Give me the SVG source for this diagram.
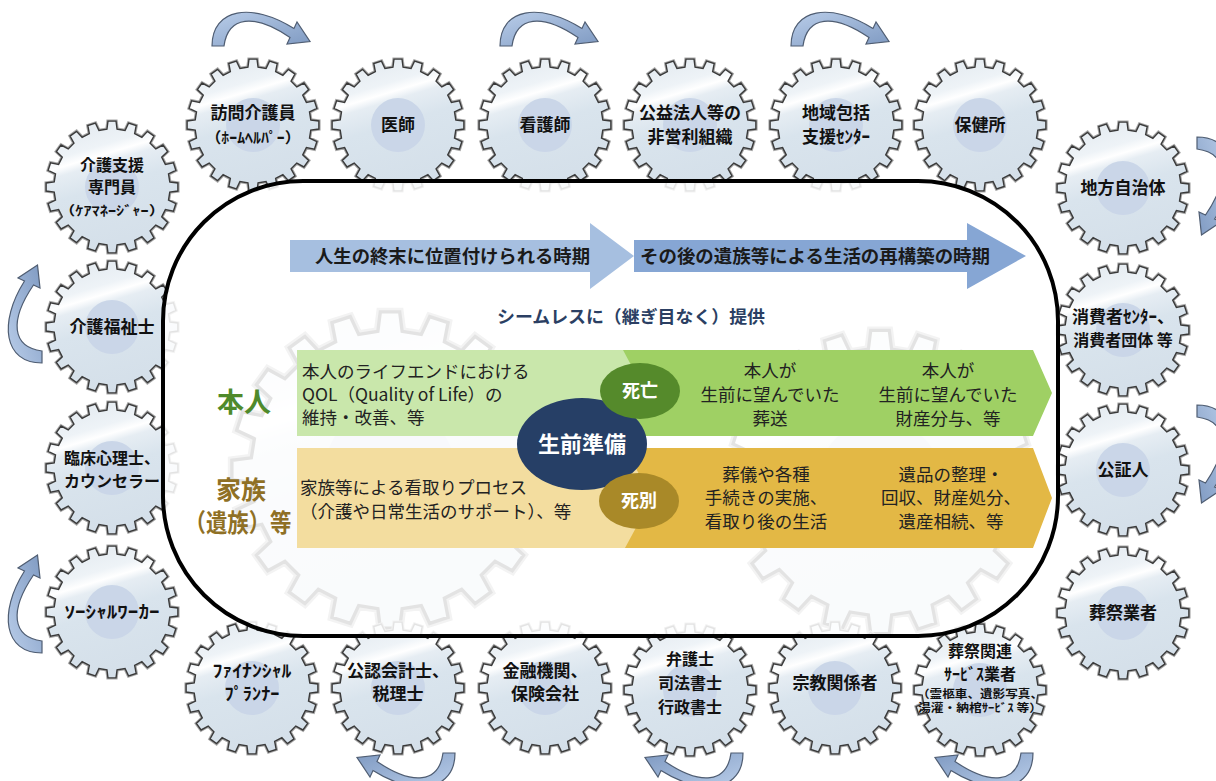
<svg xmlns="http://www.w3.org/2000/svg" xmlns:xlink="http://www.w3.org/1999/xlink" width="1216" height="781" viewBox="0 0 1216 781">
<defs>
<style>
.lbl{font-family:"Noto Sans CJK JP","Noto Sans",sans-serif;font-weight:700;fill:#111;text-anchor:middle;font-size:17px}
.body{font-family:"Noto Sans CJK JP","Noto Sans",sans-serif;font-size:17.5px;fill:#222}
.mid{text-anchor:middle}
.tl{font-family:"Noto Sans CJK JP","Noto Sans",sans-serif;font-weight:700;font-size:18px;fill:#1a1a1a}
.cyc{fill:url(#cycFill);stroke:#4f5d72;stroke-width:1.2}
.oval{font-family:"Noto Sans CJK JP","Noto Sans",sans-serif;font-weight:700;fill:#fff;text-anchor:middle}
</style>
<linearGradient id="gearFill" x1="0.3" y1="0" x2="0.6" y2="1">
<stop offset="0" stop-color="#e3eaf0"/>
<stop offset="0.2" stop-color="#eef3f7"/>
<stop offset="0.27" stop-color="#ffffff"/>
<stop offset="0.33" stop-color="#e6edf3"/>
<stop offset="0.5" stop-color="#d9e4ed"/>
<stop offset="1" stop-color="#d4dfe9"/>
</linearGradient>
<linearGradient id="cycFill" x1="0" y1="0" x2="1" y2="1">
<stop offset="0" stop-color="#b9cde9"/>
<stop offset="1" stop-color="#7f9ac2"/>
</linearGradient>
<polygon id="gearPoly" points="57.78,-5.06 65.88,-4.03 65.88,4.03 57.78,5.06 56.51,13.05 63.90,16.53 61.41,24.19 53.39,22.66 49.72,29.87 55.66,35.46 50.93,41.98 43.77,38.05 38.05,43.77 41.98,50.93 35.46,55.66 29.87,49.72 22.66,53.39 24.19,61.41 16.53,63.90 13.05,56.51 5.06,57.78 4.03,65.88 -4.03,65.88 -5.06,57.78 -13.05,56.51 -16.53,63.90 -24.19,61.41 -22.66,53.39 -29.87,49.72 -35.46,55.66 -41.98,50.93 -38.05,43.77 -43.77,38.05 -50.93,41.98 -55.66,35.46 -49.72,29.87 -53.39,22.66 -61.41,24.19 -63.90,16.53 -56.51,13.05 -57.78,5.06 -65.88,4.03 -65.88,-4.03 -57.78,-5.06 -56.51,-13.05 -63.90,-16.53 -61.41,-24.19 -53.39,-22.66 -49.72,-29.87 -55.66,-35.46 -50.93,-41.98 -43.77,-38.05 -38.05,-43.77 -41.98,-50.93 -35.46,-55.66 -29.87,-49.72 -22.66,-53.39 -24.19,-61.41 -16.53,-63.90 -13.05,-56.51 -5.06,-57.78 -4.03,-65.88 4.03,-65.88 5.06,-57.78 13.05,-56.51 16.53,-63.90 24.19,-61.41 22.66,-53.39 29.87,-49.72 35.46,-55.66 41.98,-50.93 38.05,-43.77 43.77,-38.05 50.93,-41.98 55.66,-35.46 49.72,-29.87 53.39,-22.66 61.41,-24.19 63.90,-16.53 56.51,-13.05"/>
<g id="gear">
<use href="#gearPoly" fill="none" stroke="#a8a8a8" stroke-width="3.4"/>
<use href="#gearPoly" fill="url(#gearFill)" stroke="#3a3a3a" stroke-width="1.4"/>
<circle r="27" fill="#cad6e8"/>
</g>
<path id="cycle" d="M0,0 C0,-38 40,-44 82,-17.5 L85,-24 L98,-4.5 L75,-2 L78,-8.5 C42,-33 16,-30 12,0 Z"/>
</defs>

<rect width="1216" height="781" fill="#ffffff"/>

<g id="background-gears">
<use href="#gear" transform="translate(390,470) scale(2.4)"/>
<use href="#gear" transform="translate(880,482) scale(2.3)"/>
</g>

<g id="nodes">
<g id="node-homehelper"><use href="#gear" x="253" y="125"/><text class="lbl" x="253" y="119">訪問介護員</text><text class="lbl" x="253" y="143" style="font-size:15px" textLength="95" lengthAdjust="spacingAndGlyphs">（ﾎｰﾑﾍﾙﾊﾟｰ）</text></g>
<g id="node-doctor"><use href="#gear" x="398" y="125"/><text class="lbl" x="398" y="131">医師</text></g>
<g id="node-nurse"><use href="#gear" x="545" y="125"/><text class="lbl" x="545" y="131">看護師</text></g>
<g id="node-npo"><use href="#gear" x="690" y="125"/><text class="lbl" x="690" y="119">公益法人等の</text><text class="lbl" x="690" y="143">非営利組織</text></g>
<g id="node-center"><use href="#gear" x="836" y="125"/><text class="lbl" x="836" y="119">地域包括</text><text class="lbl" x="836" y="143">支援ｾﾝﾀｰ</text></g>
<g id="node-health"><use href="#gear" x="980" y="125"/><text class="lbl" x="980" y="131">保健所</text></g>

<g id="node-caremanager"><use href="#gear" x="112" y="187"/><text class="lbl" x="112" y="171" style="font-size:16px">介護支援</text><text class="lbl" x="112" y="193" style="font-size:16px">専門員</text><text class="lbl" x="112" y="215" style="font-size:13px" textLength="106" lengthAdjust="spacingAndGlyphs">（ｹｱﾏﾈｰｼﾞｬｰ）</text></g>
<g id="node-careworker"><use href="#gear" x="112" y="327"/><text class="lbl" x="112" y="333">介護福祉士</text></g>
<g id="node-psych"><use href="#gear" x="112" y="468"/><text class="lbl" x="112" y="464" style="font-size:16px">臨床心理士、</text><text class="lbl" x="112" y="487" style="font-size:16px">カウンセラー</text></g>
<g id="node-social"><use href="#gear" x="112" y="612"/><text class="lbl" x="112" y="618" textLength="95" lengthAdjust="spacingAndGlyphs">ｿｰｼｬﾙﾜｰｶｰ</text></g>

<g id="node-local"><use href="#gear" x="1123" y="188"/><text class="lbl" x="1123" y="194">地方自治体</text></g>
<g id="node-consumer"><use href="#gear" x="1123" y="330"/><text class="lbl" x="1123" y="323">消費者ｾﾝﾀｰ、</text><text class="lbl" x="1123" y="346" style="font-size:16px">消費者団体 等</text></g>
<g id="node-notary"><use href="#gear" x="1123" y="470"/><text class="lbl" x="1123" y="476">公証人</text></g>
<g id="node-funeral"><use href="#gear" x="1123" y="613"/><text class="lbl" x="1123" y="619">葬祭業者</text></g>

<g id="node-fp"><use href="#gear" x="252" y="688"/><text class="lbl" x="252" y="677" textLength="79" lengthAdjust="spacingAndGlyphs">ﾌｧｲﾅﾝｼｬﾙ</text><text class="lbl" x="252" y="700" textLength="55" lengthAdjust="spacingAndGlyphs">ﾌﾟﾗﾝﾅｰ</text></g>
<g id="node-cpa"><use href="#gear" x="398" y="688"/><text class="lbl" x="398" y="677">公認会計士、</text><text class="lbl" x="398" y="700">税理士</text></g>
<g id="node-bank"><use href="#gear" x="545" y="688"/><text class="lbl" x="545" y="677">金融機関、</text><text class="lbl" x="545" y="700">保険会社</text></g>
<g id="node-lawyer"><use href="#gear" x="690" y="690"/><text class="lbl" x="690" y="665" style="font-size:16px">弁護士</text><text class="lbl" x="690" y="689" style="font-size:16px">司法書士</text><text class="lbl" x="690" y="713" style="font-size:16px">行政書士</text></g>
<g id="node-religion"><use href="#gear" x="835" y="688"/><text class="lbl" x="835" y="689">宗教関係者</text></g>
<g id="node-funeralservice"><use href="#gear" x="980" y="690"/><text class="lbl" x="980" y="657" style="font-size:16px">葬祭関連</text><text class="lbl" x="980" y="680" style="font-size:16px">ｻｰﾋﾞｽ業者</text><text class="lbl" x="980" y="698" style="font-size:11px" textLength="126" lengthAdjust="spacingAndGlyphs">（霊柩車、遺影写真、</text><text class="lbl" x="980" y="712" style="font-size:11px" textLength="124" lengthAdjust="spacingAndGlyphs">湯灌・納棺ｻｰﾋﾞｽ 等）</text></g>
</g>

<g id="connectors">
<use href="#cycle" class="cyc" transform="translate(212,46)"/>
<use href="#cycle" class="cyc" transform="translate(500,46)"/>
<use href="#cycle" class="cyc" transform="translate(791,46)"/>
<use href="#cycle" class="cyc" transform="translate(42,363) rotate(-90)"/>
<use href="#cycle" class="cyc" transform="translate(42,653) rotate(-90)"/>
<use href="#cycle" class="cyc" transform="translate(1197,137) rotate(90)"/>
<use href="#cycle" class="cyc" transform="translate(1197,405) rotate(90)"/>
<use href="#cycle" class="cyc" transform="translate(455,753) rotate(180)"/>
<use href="#cycle" class="cyc" transform="translate(743,753) rotate(180)"/>
<use href="#cycle" class="cyc" transform="translate(1033,753) rotate(180)"/>
</g>

<g id="frame">
<rect x="163" y="181" width="895" height="455" rx="140" ry="140" fill="#ffffff" fill-opacity="0.86" stroke="#000" stroke-width="4"/>
</g>

<g id="timeline">
<polygon points="634,240 967,240 967,223 1026,256 967,289 967,272 634,272" fill="#86a6d4"/>
<polygon points="290,240 590,240 590,223 634,256 590,289 590,272 290,272" fill="#a6bfe0"/>
<text class="tl" x="315" y="263" textLength="275" lengthAdjust="spacingAndGlyphs">人生の終末に位置付けられる時期</text>
<text class="tl" x="640" y="263" textLength="350" lengthAdjust="spacingAndGlyphs">その後の遺族等による生活の再構築の時期</text>
<text class="tl" x="497" y="323" style="fill:#2b3f63;font-size:17.5px" textLength="268" lengthAdjust="spacingAndGlyphs">シームレスに（継ぎ目なく）提供</text>
</g>

<g id="band-self">
<rect x="297" y="350" width="360" height="86" fill="#c9e7ab"/>
<polygon points="623,350 1033,350 1052,393 1033,436 623,436 646,393" fill="#9fd064"/>
<text class="body" x="302" y="378">本人のライフエンドにおける</text>
<text class="body" x="302" y="401">QOL（Quality of Life）の</text>
<text class="body" x="302" y="424">維持・改善、等</text>
<text class="body mid" x="770" y="377">本人が</text>
<text class="body mid" x="770" y="401">生前に望んでいた</text>
<text class="body mid" x="770" y="425">葬送</text>
<text class="body mid" x="948" y="377">本人が</text>
<text class="body mid" x="948" y="401">生前に望んでいた</text>
<text class="body mid" x="948" y="425">財産分与、等</text>
</g>

<g id="band-family">
<rect x="297" y="448" width="360" height="100" fill="#f3dd9f"/>
<polygon points="625,448 1033,448 1052,498 1033,548 625,548 652,498" fill="#e3b845"/>
<text class="body" x="300" y="494">家族等による看取りプロセス</text>
<text class="body" x="300" y="518">（介護や日常生活のサポート）、等</text>
<text class="body mid" x="766" y="481">葬儀や各種</text>
<text class="body mid" x="766" y="504">手続きの実施、</text>
<text class="body mid" x="766" y="528">看取り後の生活</text>
<text class="body mid" x="951" y="481">遺品の整理・</text>
<text class="body mid" x="951" y="504">回収、財産処分、</text>
<text class="body mid" x="951" y="528">遺産相続、等</text>
</g>

<g id="row-labels">
<text x="244" y="412" style="font-family:'Noto Sans CJK JP','Noto Sans',sans-serif;font-weight:700;font-size:27px;fill:#4f8a2b" text-anchor="middle">本人</text>
<text x="241" y="499" style="font-family:'Noto Sans CJK JP','Noto Sans',sans-serif;font-weight:700;font-size:25px;fill:#8f7025" text-anchor="middle">家族</text>
<text x="238" y="532" style="font-family:'Noto Sans CJK JP','Noto Sans',sans-serif;font-weight:700;font-size:25px;fill:#8f7025" text-anchor="middle" textLength="107" lengthAdjust="spacingAndGlyphs">（遺族）等</text>
</g>

<g id="node-prep">
<ellipse cx="582" cy="444" rx="65" ry="46" fill="#263f66"/>
<text class="oval" x="582" y="452" style="font-size:22px">生前準備</text>
</g>
<g id="node-death">
<ellipse cx="640" cy="391" rx="40" ry="28" fill="#558a2b"/>
<text class="oval" x="640" y="397" style="font-size:18px">死亡</text>
</g>
<g id="node-bereave">
<ellipse cx="639" cy="501" rx="40" ry="28" fill="#a98928"/>
<text class="oval" x="639" y="507" style="font-size:18px">死別</text>
</g>
</svg>
